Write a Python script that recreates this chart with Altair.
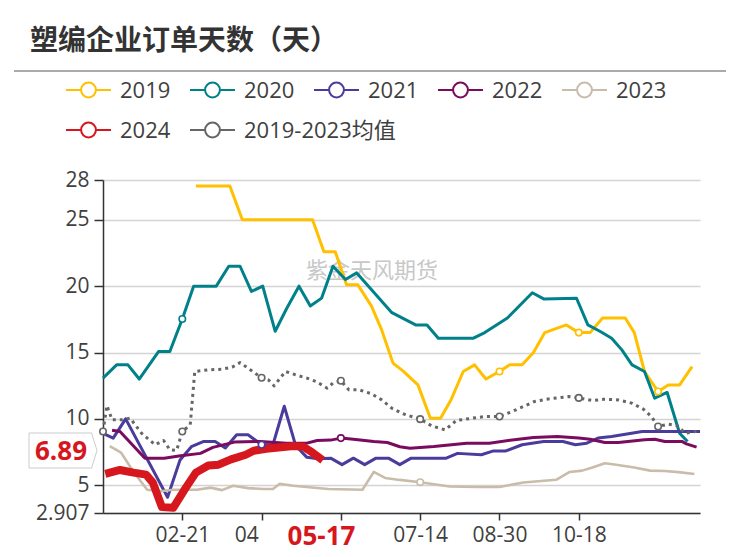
import altair as alt
import pandas as pd

# ---------------- data ----------------
series_names = ["2019", "2020", "2021", "2022", "2023", "2024", "2019-2023均值"]
series_colors = ["#FFC000", "#00818A", "#4A3C9C", "#7A0B5E", "#C9BCAA", "#D6171E", "#666666"]

# x = position along the category axis (one step per data week)
x_2019 = [8.2, 11.2, 12.3, 18.5, 19.5, 20.5, 21.5, 22.5, 23.7, 24.6, 25.6, 26.5, 27.8, 28.9, 29.8, 30.7,
          31.8, 32.8, 33.8, 35.0, 35.9, 37.0, 38.0, 39.0, 40.9, 42.0, 43.0, 44.1, 46.1, 46.9, 47.8, 49.0,
          49.9, 50.9, 52.0]
y_2019 = [27.55, 27.55, 25.0, 25.0, 22.6, 22.6, 20.1, 20.1, 18.5, 16.7, 14.2, 13.6, 12.56, 10.05, 10.05, 11.4,
          13.57, 14.07, 13.0, 13.57, 14.07, 14.07, 15.0, 16.5, 17.08, 16.5, 16.5, 17.6, 17.6, 16.5, 13.57, 12.06,
          12.56, 12.56, 13.94]

x_2020 = [0, 1.2, 2.2, 3.2, 4.9, 5.9, 7, 8.0, 10.0, 11.1, 12.1, 13.1, 14.1, 15.2, 16.2, 17.3,
          18.3, 19.3, 20.3, 21.4, 22.4, 25.5, 27.6, 28.6, 29.6, 32.7, 33.7, 35.7, 37.9, 38.9, 41.8, 42.8,
          43.9, 44.9, 45.8, 46.7, 47.8, 48.7, 49.8, 50.9, 51.6]
y_2020 = [13.07, 14.07, 14.07, 13.0, 15.07, 15.07, 17.53, 20.0, 20.0, 21.5, 21.5, 19.6, 20.0, 16.6, 18.3, 20.0,
          18.5, 19.1, 21.5, 20.5, 21.0, 18.0, 17.08, 17.08, 16.08, 16.08, 16.5, 17.6, 19.5, 19.04, 19.09, 17.08,
          16.58, 16.08, 15.2, 14.07, 13.57, 11.56, 11.99, 8.92, 8.3]

x_2021 = [0, 0.9, 2.0, 5.7, 6.8, 7.8, 8.9, 9.9, 10.8, 11.8, 12.8, 14.0, 15.0, 16.0, 17.0, 18.0,
          19.0, 20.1, 21.1, 22.1, 23.1, 24.1, 25.2, 26.2, 27.2, 30.3, 31.3, 33.4, 34.4, 35.5, 37.0, 38.9,
          40.6, 41.7, 42.7, 43.7, 44.9, 47.6, 49.9, 52.7]
y_2021 = [8.9, 8.55, 10.0, 4.1, 6.9, 7.9, 8.3, 8.3, 7.8, 8.8, 8.8, 8.05, 8.05, 10.95, 8.0, 7.1,
          7.0, 7.04, 6.55, 7.04, 6.55, 7.04, 7.04, 6.55, 7.04, 7.04, 7.4, 7.3, 7.57, 7.57, 8.05, 8.3,
          8.3, 8.05, 8.17, 8.55, 8.67, 9.05, 9.05, 9.05]

x_2022 = [0.8, 1.5, 3.7, 5.4, 6.7, 8.6, 9.7, 11.6, 13.9, 16.2, 18.0, 18.9, 20.1, 21.0, 22.1, 23.9,
          25.1, 26.2, 27.1, 29.2, 32.1, 34.1, 36.5, 38.0, 40.1, 42.0, 43.0, 44.3, 45.5, 47.8, 48.7, 49.6,
          51.1, 51.5, 52.4]
y_2022 = [9.15, 9.05, 7.04, 7.04, 7.2, 7.4, 7.85, 8.25, 8.3, 8.17, 8.17, 8.37, 8.4, 8.55, 8.47, 8.3,
          8.22, 7.9, 7.79, 7.92, 8.17, 8.17, 8.45, 8.6, 8.67, 8.55, 8.47, 8.22, 8.22, 8.42, 8.47, 8.3,
          8.3, 8.12, 7.87]

x_2023 = [0.6, 1.6, 2.7, 3.9, 5.1, 6.2, 8.3, 9.5, 10.5, 11.5, 12.8, 14.2, 15.0, 15.6, 16.8, 18.9,
          19.9, 22.9, 23.9, 24.9, 26.2, 28.0, 30.6, 33.0, 35.0, 37.1, 40.0, 41.2, 42.3, 43.2, 44.3, 45.3,
          46.9, 48.3, 49.6, 50.8, 52.2]
y_2023 = [7.95, 7.45, 6.0, 4.66, 4.55, 4.66, 4.66, 4.82, 4.63, 4.96, 4.78, 4.71, 4.71, 5.11, 4.96, 4.79,
          4.71, 4.66, 6.0, 5.55, 5.4, 5.23, 4.9, 4.87, 4.87, 5.2, 5.41, 6.0, 6.1, 6.33, 6.66, 6.54,
          6.33, 6.1, 6.07, 5.99, 5.84]

x_2024 = [0.2, 1.5, 2.7, 3.8, 4.4, 5.2, 6.2, 7.3, 8.2, 9.3, 10.2, 11.3, 12.6, 13.3, 14.4, 15.5,
          16.8, 17.7, 18.5, 19.4]
y_2024 = [5.86, 6.15, 5.95, 5.8, 5.2, 3.35, 3.3, 4.8, 5.95, 6.48, 6.55, 6.95, 7.3, 7.6, 7.75, 7.85,
          7.95, 7.9, 7.45, 6.89]

x_avg = [0, 0.35, 0.8, 1.7, 2.4, 3.4, 4.6, 5.35, 5.9, 6.5, 7, 7.7, 8.1, 9.3, 10.5, 11.4,
         12.1, 13.0, 14, 14.6, 15.1, 16.1, 17.0, 18.0, 18.8, 19.8, 20.3, 21, 21.7, 22.6, 23.7, 24.6,
         25.5, 26.6, 28, 29.0, 30.2, 31.2, 32.6, 33.7, 35, 36.1, 37.1, 38.1, 39.3, 41.1, 42, 43.2,
         44.2, 45.5, 46.7, 47.7, 48.4, 49, 49.9, 50.7, 51.4, 52.7]
y_avg = [9.05, 11.0, 9.93, 9.93, 10.05, 8.92, 8.05, 8.37, 7.67, 7.62, 9.05, 9.55, 13.57, 13.7, 13.74, 13.9,
         14.24, 13.7, 13.1, 12.94, 12.49, 13.57, 13.32, 13.07, 12.82, 12.31, 12.69, 12.87, 12.19, 12.19, 11.89, 11.43,
         10.8, 10.35, 9.98, 9.48, 9.17, 9.88, 10.05, 10.18, 10.18, 10.55, 10.93, 11.31, 11.5, 11.68, 11.58, 11.38,
         11.48, 11.43, 11.18, 10.73, 10.18, 9.43, 9.6, 9.48, 8.92, 9.1]

series_x = [x_2019, x_2020, x_2021, x_2022, x_2023, x_2024, x_avg]
series_y = [y_2019, y_2020, y_2021, y_2022, y_2023, y_2024, y_avg]

# positions carrying a hollow circle symbol
marker_x = {"2019": [35, 42, 49], "2020": [7], "2021": [14], "2022": [21], "2023": [28],
            "2019-2023均值": [0, 7, 14, 21, 28, 35, 42, 49]}

x_tick_pos = [7, 14, 21, 28, 35, 42]
x_tick_labels = ["02-21", "04-05", "", "07-14", "08-30", "10-18"]
y_tick_values = [2.907, 5, 10, 15, 20, 25, 28]
last_value_label = "6.89"
highlight_date = "05-17"
title_text = "塑编企业订单天数（天）"
watermark_text = "紫金天风期货"

# ---------------- layout ----------------
OX, OY = 103, 180          # plot origin in page pixels
W, H = 597, 333
NUM_FONT = "Open Sans"
CJK_FONT = "Noto Sans CJK SC"
TEXT_COLOR = "#404040"


def px(v):
    return v - OX


def py(v):
    return v - OY


x_expr = " : ".join(f"datum.value == {p} ? '{l}'" for p, l in zip(x_tick_pos, x_tick_labels)) + " : ''"

X = alt.X("x:Q",
          scale=alt.Scale(domain=[0, 52.7], nice=False, zero=False),
          axis=alt.Axis(values=x_tick_pos, labelExpr=x_expr, grid=False, title=None,
                        domainColor="#333333", domainWidth=1.5, tickColor="#333333", tickWidth=1.5,
                        tickSize=7, labelFontSize=21, labelFont=NUM_FONT, labelColor=TEXT_COLOR,
                        labelPadding=4, labelFlush=False, labelOverlap=False))
Y = alt.Y("y:Q",
          scale=alt.Scale(domain=[2.907, 28], nice=False, zero=False),
          axis=alt.Axis(values=y_tick_values,
                        labelExpr="datum.value == 2.907 ? '2.907' : format(datum.value, 'd')",
                        grid=True, gridColor="#d4d4d4", gridWidth=1.5, title=None,
                        domainColor="#333333", domainWidth=1.5, tickColor="#333333", tickWidth=1.5,
                        tickSize=9, labelFontSize=21, labelFont=NUM_FONT, labelColor=TEXT_COLOR,
                        labelPadding=5, labelFlush=False, labelOverlap=False))

dummy = pd.DataFrame({"d": [0]})
layers = []

# watermark
layers.append(alt.Chart(dummy).mark_text(text=watermark_text, font=CJK_FONT, fontSize=22, color="#c8c8c8",
                                         align="center", baseline="middle")
              .encode(x=alt.value(px(372)), y=alt.value(py(271))))

styles = {
    "2019": dict(strokeWidth=3),
    "2020": dict(strokeWidth=3),
    "2021": dict(strokeWidth=3),
    "2022": dict(strokeWidth=3),
    "2023": dict(strokeWidth=2.6),
    "2024": dict(strokeWidth=8),
    "2019-2023均值": dict(strokeWidth=3, strokeDash=[3, 4]),
}

for name, color, xs, ys in zip(series_names, series_colors, series_x, series_y):
    assert len(xs) == len(ys), name
    df = pd.DataFrame({"x": xs, "y": ys})
    layers.append(alt.Chart(df).mark_line(color=color, strokeJoin="round", **styles[name])
                  .encode(x=X, y=Y))

for name, color, xs, ys in zip(series_names, series_colors, series_x, series_y):
    if name not in marker_x:
        continue
    df = pd.DataFrame({"x": xs, "y": ys})
    df = df[df["x"].isin(marker_x[name])]
    layers.append(alt.Chart(df).mark_point(shape="circle", filled=True, fill="white", stroke=color,
                                           strokeWidth=1.6, size=42, opacity=1)
                  .encode(x=X, y=Y))

# last-value label on the y axis
layers.append(alt.Chart(dummy).mark_point(shape="M-1,-0.515H0.84L1,0L0.84,0.515H-1Z", size=68 * 68,
                                          filled=True, fill="white", stroke="#cccccc", strokeWidth=1, opacity=1)
              .encode(x=alt.value(px(63)), y=alt.value(py(450.5))))
layers.append(alt.Chart(dummy).mark_text(text=last_value_label, font=NUM_FONT, fontSize=26, fontWeight="bold",
                                         color="#D6171E", align="center", baseline="middle")
              .encode(x=alt.value(px(61)), y=alt.value(py(452))))

# highlighted date under the x axis
layers.append(alt.Chart(dummy).mark_rect(color="white")
              .encode(x=alt.value(px(259)), x2=alt.value(px(388)), y=alt.value(py(521)), y2=alt.value(py(556))))
layers.append(alt.Chart(dummy).mark_text(text=highlight_date, font=NUM_FONT, fontSize=26, fontWeight="bold",
                                         color="#D6171E", align="center", baseline="middle")
              .encode(x=alt.value(px(321.5)), y=alt.value(py(537))))

# title and separator
layers.append(alt.Chart(dummy).mark_text(text=title_text, font=CJK_FONT, fontSize=28, fontWeight="bold",
                                         color="#333333", align="left", baseline="middle")
              .encode(x=alt.value(px(30)), y=alt.value(py(42))))
layers.append(alt.Chart(dummy).mark_rule(color="#aaaaaa", strokeWidth=2)
              .encode(x=alt.value(px(14)), x2=alt.value(px(728)), y=alt.value(py(71))))

# legend
for k, (name, color) in enumerate(zip(series_names, series_colors)):
    col, row = k % 5, k // 5
    sx0 = 66 + 124 * col
    cy = 90 + 40 * row
    layers.append(alt.Chart(dummy).mark_rule(color=color, strokeWidth=2)
                  .encode(x=alt.value(px(sx0)), x2=alt.value(px(sx0 + 45)), y=alt.value(py(cy))))
    layers.append(alt.Chart(dummy).mark_point(shape="circle", filled=True, fill="white", stroke=color,
                                              strokeWidth=2, size=220, opacity=1)
                  .encode(x=alt.value(px(sx0 + 22.5)), y=alt.value(py(cy))))
    layers.append(alt.Chart(dummy).mark_text(text=name, font=f"{NUM_FONT}, {CJK_FONT}", fontSize=22,
                                             color=TEXT_COLOR, align="left", baseline="middle")
                  .encode(x=alt.value(px(sx0 + 54)), y=alt.value(py(cy + 1))))

chart = alt.layer(*layers).properties(
    width=W, height=H,
    padding={"left": OX - 8, "top": OY - 8, "right": 26, "bottom": 40},
    autosize=alt.AutoSizeParams(type="none"),
    background="white",
).configure_view(stroke=None)

chart.save("out.html", embed_options={"renderer": "svg", "actions": False})
